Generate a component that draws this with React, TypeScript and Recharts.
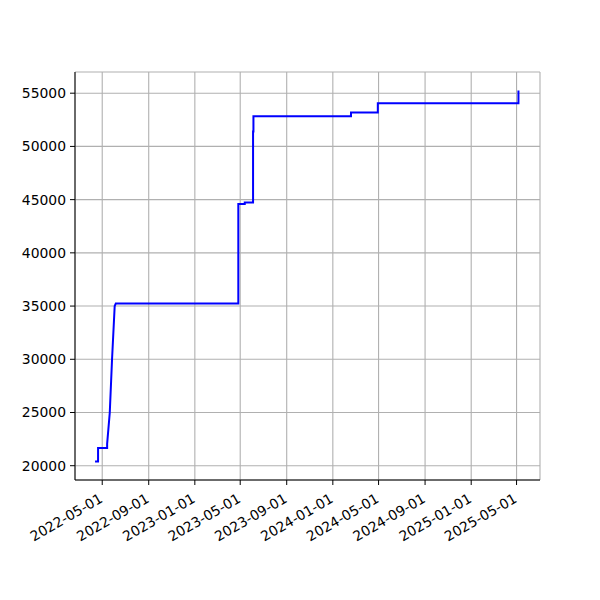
import { LineChart, Line, XAxis, YAxis, CartesianGrid } from 'recharts';

// step points of the cumulative series (date, value)
const dates = [
  '2022-04-12', '2022-04-20', '2022-04-20', '2022-05-14', '2022-05-14',
  '2022-05-21', '2022-05-27', '2022-06-03', '2022-06-06', '2023-04-26',
  '2023-04-26', '2023-05-13', '2023-05-13', '2023-06-04', '2023-06-04',
  '2023-06-05', '2023-06-05', '2024-02-18', '2024-02-18', '2024-04-29',
  '2024-04-29', '2025-05-06', '2025-05-06',
];
const values = [
  20400, 20400, 21660, 21660, 22060,
  25000, 30000, 35000, 35250, 35250,
  44600, 44600, 44720, 44720, 51400,
  51400, 52840, 52840, 53180, 53180,
  54050, 54050, 55250,
];

const xTickLabels = [
  '2022-05-01', '2022-09-01', '2023-01-01', '2023-05-01', '2023-09-01',
  '2024-01-01', '2024-05-01', '2024-09-01', '2025-01-01', '2025-05-01',
];
const yTicks = [20000, 25000, 30000, 35000, 40000, 45000, 50000, 55000];

const xDomain = [Date.parse('2022-02-18'), Date.parse('2025-07-02')];
const yDomain = [18658, 56992];

const data = dates.map((d, i) => ({ t: Date.parse(d), v: values[i] }));
const xTicks = xTickLabels.map((s) => Date.parse(s));

const FONT = 'DejaVu Sans, sans-serif';

const DateTick = (props: any) => {
  const { x, y, payload } = props;
  const label = new Date(payload.value).toISOString().slice(0, 10);
  return (
    <g transform={`translate(${x - 4},${y + 5}) rotate(-30)`}>
      <text x={0} y={0} dy="0.78em" textAnchor="end" fill="#000" fontSize={13.9} fontFamily={FONT}>
        {label}
      </text>
    </g>
  );
};

export default function App() {
  return (
    <div style={{ position: 'absolute', left: 0, top: 0, width: 600, height: 600, background: '#fff' }}>
      <LineChart width={600} height={600} data={data} margin={{ top: 72, right: 60, left: 0, bottom: 0 }}>
        <CartesianGrid stroke="#b0b0b0" strokeWidth={1.1} />
        <XAxis
          dataKey="t"
          type="number"
          domain={xDomain}
          ticks={xTicks}
          allowDataOverflow
          height={120}
          tickSize={5}
          tickLine={{ stroke: '#000' }}
          axisLine={{ stroke: '#000' }}
          tick={<DateTick />}
          interval={0}
        />
        <XAxis xAxisId="top" orientation="top" type="number" domain={xDomain} height={0} tick={false} tickLine={false} axisLine={{ stroke: '#000' }} />
        <YAxis
          type="number"
          domain={yDomain}
          ticks={yTicks}
          allowDataOverflow
          width={75}
          tickSize={5}
          tickMargin={4}
          tickLine={{ stroke: '#000' }}
          axisLine={{ stroke: '#000' }}
          tick={{ fill: '#000', fontSize: 13.9, fontFamily: FONT }}
          interval={0}
        />
        <YAxis yAxisId="right" orientation="right" type="number" domain={yDomain} width={0} tick={false} tickLine={false} axisLine={{ stroke: '#000' }} />
        <Line
          dataKey="v"
          type="linear"
          stroke="#0000ff"
          strokeWidth={2}
          dot={false}
          isAnimationActive={false}
        />
      </LineChart>
    </div>
  );
}
